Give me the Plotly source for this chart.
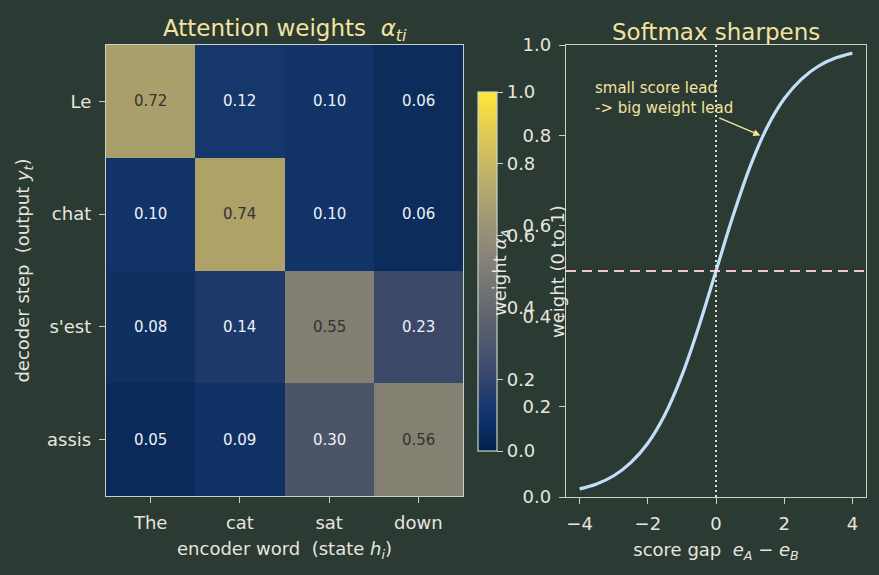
import plotly.graph_objects as go

# ---------------- data ----------------
enc_words = ["The", "cat", "sat", "down"]
dec_steps = ["Le", "chat", "s'est", "assis"]
attn = [
    [0.72, 0.12, 0.10, 0.06],
    [0.10, 0.74, 0.10, 0.06],
    [0.08, 0.14, 0.55, 0.23],
    [0.05, 0.09, 0.30, 0.56],
]
score_gap = [-4.0, -3.5, -3.0, -2.5, -2.0, -1.5, -1.0, -0.5, 0.0,
             0.5, 1.0, 1.5, 2.0, 2.5, 3.0, 3.5, 4.0]
weight_a = [0.018, 0.029, 0.047, 0.076, 0.119, 0.182, 0.269, 0.378, 0.500,
            0.622, 0.731, 0.818, 0.881, 0.924, 0.953, 0.971, 0.982]
cbar_ticks = [0.0, 0.2, 0.4, 0.6, 0.8, 1.0]
right_yticks = [0.0, 0.2, 0.4, 0.6, 0.8, 1.0]
right_xticks = [-4, -2, 0, 2, 4]

# ---------------- style ----------------
BG = "#2b3a33"
FG = "#e6e6de"
SPINE = "#c8d2c8"
TITLE = "#f3e3a0"
FONT = "DejaVu Sans"
TICK = 18
LAB = 18

fig = go.Figure()

text_colors = [["#333333" if v > 0.5 else "#eef0f4" for v in row] for row in attn]

fig.add_trace(go.Heatmap(
    z=attn, x=enc_words, y=dec_steps,
    colorscale="Cividis", zmin=0, zmax=1, opacity=0.93,
    xaxis="x", yaxis="y", showscale=True,
    colorbar=dict(
        x=478 / 879, xanchor="left", xpad=0, ypad=0, thickness=19, thicknessmode="pixels",
        len=359, lenmode="pixels", y=1 - 271.5 / 575, yanchor="middle",
        outlinecolor=SPINE, outlinewidth=1.2,
        tickvals=cbar_ticks, ticktext=[f"{t:.1f}" for t in cbar_ticks],
        ticks="outside", ticklen=6, tickcolor=SPINE,
        tickfont=dict(family=FONT, size=TICK, color=FG),
    ),
    hoverinfo="skip",
))

# value labels
for i, row in enumerate(attn):
    for j, v in enumerate(row):
        fig.add_annotation(x=enc_words[j], y=dec_steps[i], xref="x", yref="y",
                           text=f"{v:.2f}", showarrow=False,
                           font=dict(family=FONT, size=15, color=text_colors[i][j]))

# softmax curve
fig.add_trace(go.Scatter(
    x=score_gap, y=weight_a, mode="lines", line=dict(color="#c2defa", width=3.2, shape="spline"),
    xaxis="x2", yaxis="y2", showlegend=False, hoverinfo="skip",
))

# dashed 0.5 line, dotted 0 line
fig.add_shape(type="line", xref="x2 domain", yref="y2", x0=0, x1=1, y0=0.5, y1=0.5,
              line=dict(color="#f6c4cf", width=2, dash="10px,6px"))
fig.add_shape(type="line", xref="x2", yref="y2 domain", x0=0, x1=0, y0=0, y1=1,
              line=dict(color="#f0f0f0", width=1.8, dash="2px,3px"))

# annotation
fig.add_annotation(x=-3.62, y=0.93, xref="x2", yref="y2", xanchor="left", yanchor="top",
                   text="small score lead<br>-> big weight lead", showarrow=False, align="left",
                   font=dict(family=FONT, size=15, color=TITLE))
fig.add_annotation(x=1.3, y=0.80, xref="x2", yref="y2", ax=0.05, ay=0.84,
                   axref="x2", ayref="y2", text="", showarrow=True,
                   arrowhead=2, arrowsize=1, arrowwidth=1.4, arrowcolor=TITLE)

# titles
fig.add_annotation(x=0.5, y=1.0, xref="x domain", yref="y domain", yanchor="bottom",
                   yshift=-2, text="Attention weights  <i>α</i><sub><i>ti</i></sub>",
                   showarrow=False, font=dict(family=FONT, size=23, color=TITLE))
fig.add_annotation(x=0.5, y=1.0, xref="x2 domain", yref="y2 domain", yanchor="bottom",
                   yshift=-2, text="Softmax sharpens",
                   showarrow=False, font=dict(family=FONT, size=23, color=TITLE))

# overlapping rotated labels (colorbar label and right y-axis label)
fig.add_annotation(x=501 / 879, y=1 - 273 / 575, xref="paper", yref="paper",
                   text="weight <i>α</i><sub><i>A</i></sub>", textangle=-90, showarrow=False,
                   font=dict(family=FONT, size=LAB, color=FG))
fig.add_annotation(x=557 / 879, y=1 - 272 / 575, xref="paper", yref="paper",
                   text="weight (0 to 1)", textangle=-90, showarrow=False,
                   font=dict(family=FONT, size=LAB, color=FG))

axis_common = dict(showline=True, linecolor=SPINE, linewidth=1.3, mirror=True,
                   ticks="outside", ticklen=6, tickcolor=SPINE, showgrid=False, zeroline=False,
                   automargin=False, ticklabelstandoff=4,
                   tickfont=dict(family=FONT, size=TICK, color=FG))

fig.update_layout(
    width=879, height=575, margin=dict(l=0, r=0, t=0, b=0),
    paper_bgcolor=BG, plot_bgcolor=BG,
    font=dict(family=FONT, color=FG),
    showlegend=False,
    xaxis=dict(domain=[106 / 879, 463 / 879], anchor="y",
               title=dict(text="encoder word  (state <i>h</i><sub><i>i</i></sub>)",
                          font=dict(family=FONT, size=LAB, color=FG), standoff=10),
               **axis_common),
    yaxis=dict(domain=[1 - 496 / 575, 1 - 45 / 575], anchor="x", autorange="reversed",
               title=dict(text="decoder step  (output <i>y</i><sub><i>t</i></sub>)",
                          font=dict(family=FONT, size=LAB, color=FG), standoff=12),
               **axis_common),
    xaxis2=dict(domain=[566 / 879, 866 / 879], anchor="y2", range=[-4.4, 4.4],
                tickvals=right_xticks, ticktext=["−4", "−2", "0", "2", "4"],
                title=dict(text="score gap  <i>e</i><sub><i>A</i></sub> − <i>e</i><sub><i>B</i></sub>",
                           font=dict(family=FONT, size=LAB, color=FG), standoff=10),
                **axis_common),
    yaxis2=dict(domain=[1 - 497 / 575, 1 - 45 / 575], anchor="x2", range=[0, 1],
                tickvals=right_yticks, ticktext=[f"{t:.1f}" for t in right_yticks],
                **axis_common),
)

fig.write_html("out.html")
